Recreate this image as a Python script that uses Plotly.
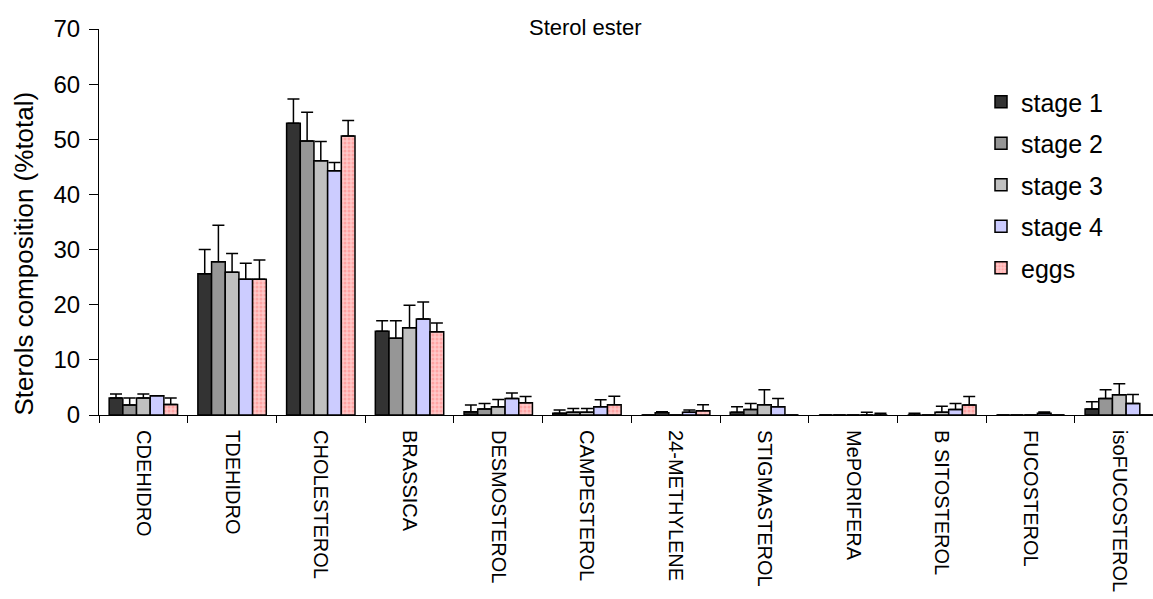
import plotly.graph_objects as go

categories = ["CDEHIDRO", "TDEHIDRO", "CHOLESTEROL", "BRASSICA", "DESMOSTEROL", "CAMPESTEROL",
              "24-METHYLENE", "STIGMASTEROL", "MePORIFERA", "B SITOSTEROL", "FUCOSTEROL", "isoFUCOSTEROL"]

stage1 = [3.1, 25.6, 52.9, 15.2, 0.6, 0.3, 0.0, 0.5, 0.0, 0.0, 0.0, 1.1]
err_stage1 = [0.7, 4.4, 4.4, 1.9, 1.2, 0.6, 0.0, 1.0, 0.0, 0.3, 0.0, 1.3]
stage2 = [1.8, 27.8, 49.7, 13.9, 1.1, 0.5, 0.4, 1.0, 0.0, 0.0, 0.0, 3.0]
err_stage2 = [1.3, 6.6, 5.2, 3.2, 1.0, 0.7, 0.2, 1.1, 0.0, 0.0, 0.0, 1.6]
stage3 = [3.1, 25.9, 46.1, 15.8, 1.5, 0.5, 0.0, 1.85, 0.0, 0.5, 0.0, 3.65]
err_stage3 = [0.7, 3.4, 3.5, 4.1, 1.3, 0.7, 0.0, 2.75, 0.0, 1.1, 0.0, 2.0]
stage4 = [3.5, 24.6, 44.3, 17.4, 3.0, 1.5, 0.5, 1.5, 0.0, 1.0, 0.3, 2.1]
err_stage4 = [0.0, 2.9, 1.5, 3.1, 1.0, 1.25, 0.4, 1.5, 0.5, 1.1, 0.25, 1.6]
eggs = [1.9, 24.6, 50.6, 15.1, 2.2, 1.85, 0.75, 0.0, 0.0, 1.8, 0.0, 0.0]
err_eggs = [1.2, 3.5, 2.8, 1.6, 1.15, 1.55, 1.1, 0.0, 0.3, 1.55, 0.0, 0.0]

series = [
    ("stage 1", stage1, err_stage1, "#333333", None),
    ("stage 2", stage2, err_stage2, "#969696", None),
    ("stage 3", stage3, err_stage3, "#C0C0C0", None),
    ("stage 4", stage4, err_stage4, "#CCCCFF", None),
    ("eggs", eggs, err_eggs, "#FFC8C8", "#FF8080"),
]

FONT = "Liberation Sans, Arial, sans-serif"
W, H = 1153, 599
ML, MT, MB = 99, 29, 184
PW, PH = W - ML, H - MT - MB

fig = go.Figure()
for name, vals, errs, color, dots in series:
    marker = dict(color=color, line=dict(color="black", width=1.5))
    if dots:
        marker["pattern"] = dict(shape=".", bgcolor=color, fgcolor=dots, size=4, solidity=0.45)
    fig.add_trace(go.Bar(
        name=name, x=categories, y=vals, marker=marker, legendgroup=name,
        error_y=dict(type="data", symmetric=False, array=errs,
                     arrayminus=[0] * len(errs), color="black", thickness=1.5, width=6),
    ))

fig.update_layout(
    width=W, height=H,
    paper_bgcolor="white", plot_bgcolor="white",
    font=dict(family=FONT, color="black"),
    barmode="group", bargap=0.229, bargroupgap=0,
    margin=dict(l=ML, r=0, t=MT, b=MB, autoexpand=False),
    title=dict(text="Sterol ester", x=529 / W, xref="container", xanchor="left",
               y=1 - 27 / H, yref="container", yanchor="middle",
               font=dict(size=22, family=FONT, color="black")),
    showlegend=True,
    legend=dict(x=(981 - ML) / PW, xref="paper", xanchor="left",
                y=1 - (79 - MT) / PH, yref="paper", yanchor="top",
                font=dict(size=25, family=FONT, color="black"),
                bgcolor="rgba(0,0,0,0)", tracegroupgap=6, traceorder="grouped"),
    annotations=[dict(
        text="Sterols composition (%total)", textangle=-90,
        x=(23 - ML) / PW, xref="paper", xanchor="center",
        y=(415.5 - 254) / PH, yref="paper", yanchor="middle",
        showarrow=False, font=dict(size=26, family=FONT, color="black"),
    )],
)

fig.update_xaxes(
    type="category", range=[-0.5, 11.38],
    showline=True, linecolor="black", linewidth=1,
    ticks="outside", tickson="boundaries", ticklen=7, tickcolor="black", tickwidth=1,
    tickangle=90, tickfont=dict(size=20, family=FONT, color="black"),
    ticklabelstandoff=10,
    showgrid=False, zeroline=False,
)
fig.update_yaxes(
    range=[0, 70], dtick=10, tick0=0,
    showline=True, linecolor="black", linewidth=1,
    ticks="outside", ticklen=9, tickcolor="black", tickwidth=1,
    tickfont=dict(size=24, family=FONT, color="black"),
    ticklabelstandoff=4,
    showgrid=False, zeroline=False,
)

fig.write_html("out.html", config={"displayModeBar": False},
               post_script="document.body.style.margin='0';document.body.style.padding='0';")
